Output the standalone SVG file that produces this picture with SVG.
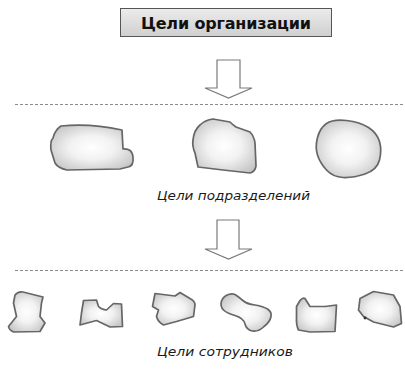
<svg xmlns="http://www.w3.org/2000/svg" width="405" height="372" viewBox="0 0 405 372">
<defs>
<radialGradient id="blobFill" cx="50%" cy="50%" r="60%">
<stop offset="0" stop-color="#ffffff"/>
<stop offset="0.45" stop-color="#f2f2f2"/>
<stop offset="1" stop-color="#c6c6c6"/>
</radialGradient>
<linearGradient id="boxFill" x1="0" y1="0" x2="0" y2="1">
<stop offset="0" stop-color="#ececec"/>
<stop offset="1" stop-color="#cfcfcf"/>
</linearGradient>
</defs>
<style>
.blob{fill:url(#blobFill);stroke:#666;stroke-width:1.7;stroke-linejoin:round}
.sep{stroke:#8a8a8a;stroke-width:1;stroke-dasharray:3,2;fill:none}
.arrow{fill:#ffffff;stroke:#7a7a7a;stroke-width:1.2;stroke-linejoin:miter}
.title{font-family:"DejaVu Sans",sans-serif;font-weight:bold;font-size:16px;fill:#111}
.label{font-family:"DejaVu Sans",sans-serif;font-style:italic;font-size:13px;fill:#1a1a1a}
</style>
<rect width="405" height="372" fill="#ffffff"/>

<g id="org-goals">
<rect x="120.5" y="8.5" width="211" height="28" fill="url(#boxFill)" stroke="#555" stroke-width="1"/>
<text class="title" x="226" y="29" text-anchor="middle" textLength="170" lengthAdjust="spacing">Цели организации</text>
</g>

<g id="separators">
<line class="sep" x1="15" y1="104.5" x2="404" y2="104.5"/>
<line class="sep" x1="15" y1="270.5" x2="404" y2="270.5"/>
</g>

<g id="connectors">
<path class="arrow" d="M217,60 L240,60 L240,88 L252,88 L228.5,98 L205,88 L217,88 Z"/>
<path class="arrow" d="M217,220 L239,220 L239,249 L252,249 L228.5,259 L205,249 L217,249 Z"/>
</g>

<g id="dept-goals">
<path class="blob" d="M61,126 Q90,123 122,130 L123,149 Q132,148 133,157 Q134,166 128,167 L120,169 L67,170 Q58,168 55,163 L51,150 Q50,141 53,138 Q55,130 61,126 Z"/>
<path class="blob" d="M200,125 Q205,120 213,119 L230,122 Q233,125 236,127 L250,132 Q254,136 255,143 L256,166 Q255,172 250,173 L223,170 L198,167 L195,153 Q192,146 193,140 Q194,130 200,125 Z"/>
<path class="blob" d="M346.5,120.5 Q360,122 368.5,127.5 Q377,133 379.5,141.5 Q382,150 379.5,160 Q377,170 365,174 Q353,178 343,177.5 Q333,177 326.5,170 Q320,163 317.5,155 Q315,147 317.5,137.5 Q320,128 326.5,123.5 Q333,119 346.5,120.5 Z"/>
<text class="label" x="233.5" y="200" text-anchor="middle" textLength="153" lengthAdjust="spacingAndGlyphs">Цели подразделений</text>
</g>

<g id="staff-goals">
<path class="blob" d="M15,295 Q18,291 23,292 L43,297 L41.5,303 L40,316.5 L45,323 L40,331.5 L13.5,332 Q9,330 8.5,326.5 L16.5,316.5 L13.5,303 Z"/>
<path class="blob" d="M83.5,300.5 L96.5,300 L98.5,306.5 Q102,310 106.5,310 L113.5,303.5 L121.5,304 L122.5,326.5 L110,327 L96.5,320.5 L80,325 L81.5,313 Z"/>
<path class="blob" d="M155,293.5 L167,295 L175,296 L180,292.5 L190,298.5 Q195,301 195,305 L193.5,316.5 L176.5,321.5 L163.5,325 Q158,322 156.5,316.5 L158.5,310 L152.5,306.5 Z"/>
<path class="blob" d="M228.5,294.5 Q233.5,293 236.5,295.5 Q240,298 243.5,301 Q247,304 255,305 Q263.5,306.5 267.5,309 Q272,312 271,316.5 Q270,322 264,326.5 Q258.5,332 252.5,331 Q246.5,330 245,324 Q243.5,318 235,315.5 Q226.5,313 223.5,310 Q220,306.5 221.5,301 Q223.5,296 228.5,294.5 Z"/>
<path class="blob" d="M300,300.5 Q303,297 305,298.5 L310,306.5 L325,306.5 L336.5,305 L335,331.5 L310,332 L298.5,330 Q296,325 296.5,316.5 L296.5,306.5 Z"/>
<path class="blob" d="M373.5,291.5 L393.5,295 L400,306.5 L401.5,323.5 L393.5,327 L373.5,322 L363.5,316.5 L358.5,310 L360,298.5 Z"/>
<circle cx="365" cy="318" r="1.4" fill="#333"/>
<text class="label" x="225" y="356" text-anchor="middle" textLength="136" lengthAdjust="spacingAndGlyphs">Цели сотрудников</text>
</g>
</svg>
